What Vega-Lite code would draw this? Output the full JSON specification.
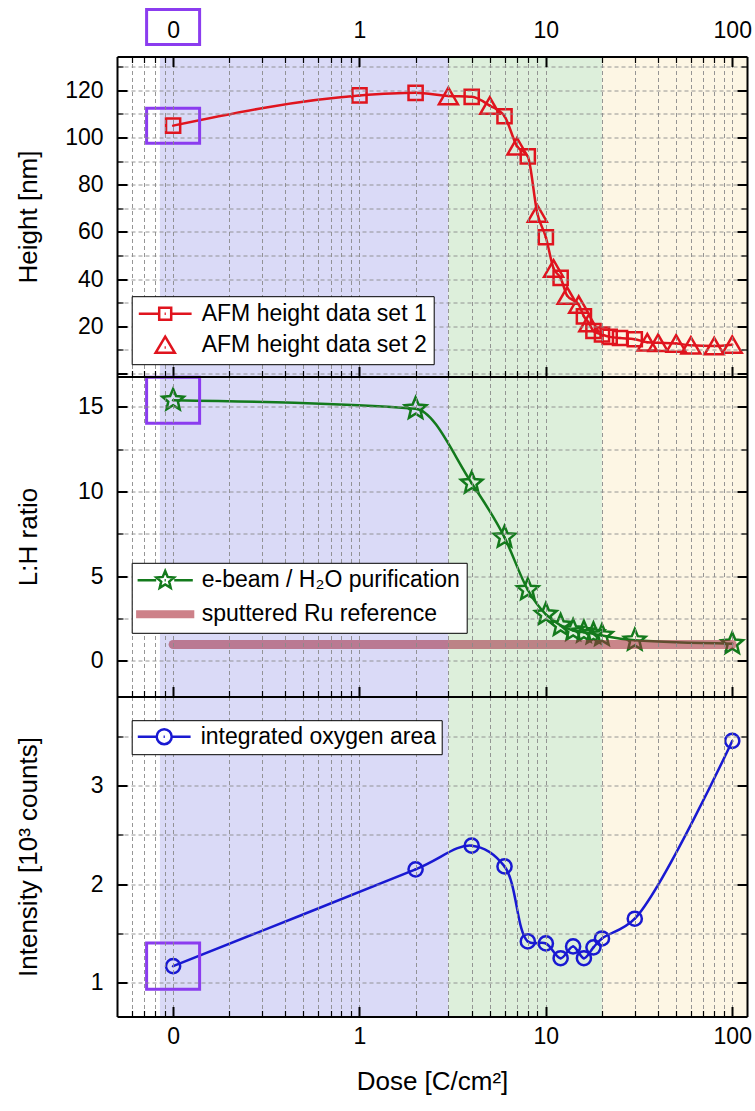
{
  "$schema": "https://vega.github.io/schema/vega-lite/v6.json",
  "background": "white",
  "padding": {"left": 15, "top": 3.5, "right": 5, "bottom": 5},
  "spacing": 0,
  "bounds": "flush",
  "resolve": {
    "scale": {"color": "independent", "shape": "independent"},
    "legend": {"color": "independent", "shape": "independent"}
  },
  "config": {
    "view": {"stroke": null},
    "font": "Liberation Sans",
    "axis": {
      "domainColor": "black", "domainWidth": 2, "tickColor": "black",
      "gridColor": "#8a8a8a", "gridDash": [4, 3], "gridWidth": 0.9,
      "labelFont": "Liberation Sans", "labelFontSize": 23, "labelColor": "black",
      "titleFont": "Liberation Sans", "titleFontSize": 26, "titleFontWeight": "normal", "titleColor": "black",
      "labelOverlap": false, "labelFlush": false
    },
    "legend": {
      "orient": "none", "labelFont": "Liberation Sans", "labelFontSize": 23, "labelColor": "black",
      "fillColor": "white", "strokeColor": "black", "padding": 6, "cornerRadius": 0,
      "symbolStrokeWidth": 2.5, "symbolSize": 144, "symbolOffset": 16, "labelOffset": 25,
      "symbolOpacity": 1, "labelLimit": 600
    }
  },
  "datasets": {
    "bands": [
      {"from": 0.085, "to": 3, "zone": "low"},
      {"from": 3, "to": 20, "zone": "mid"},
      {"from": 20, "to": 120, "zone": "high"}
    ],
    "height": [
      {"dose": 0.1, "height": 105, "set": "1"},
      {"dose": 1, "height": 117.8, "set": "1"},
      {"dose": 2, "height": 118.9, "set": "1"},
      {"dose": 3, "height": 117.6, "set": "2"},
      {"dose": 4, "height": 117.2, "set": "1"},
      {"dose": 5, "height": 113.5, "set": "2"},
      {"dose": 6, "height": 109, "set": "1"},
      {"dose": 7, "height": 96.3, "set": "2"},
      {"dose": 8, "height": 92, "set": "1"},
      {"dose": 9, "height": 67.8, "set": "2"},
      {"dose": 10, "height": 57.7, "set": "1"},
      {"dose": 11, "height": 44.5, "set": "2"},
      {"dose": 12, "height": 40.5, "set": "1"},
      {"dose": 13, "height": 33, "set": "2"},
      {"dose": 15, "height": 29.2, "set": "2"},
      {"dose": 16, "height": 24.2, "set": "1"},
      {"dose": 17, "height": 21.4, "set": "2"},
      {"dose": 18, "height": 18, "set": "1"},
      {"dose": 20, "height": 16.5, "set": "1"},
      {"dose": 22, "height": 15.5, "set": "1"},
      {"dose": 25, "height": 15, "set": "1"},
      {"dose": 30, "height": 14.5, "set": "1"},
      {"dose": 35, "height": 13.2, "set": "2"},
      {"dose": 40, "height": 13, "set": "2"},
      {"dose": 50, "height": 12.7, "set": "2"},
      {"dose": 60, "height": 11.9, "set": "2"},
      {"dose": 80, "height": 11.6, "set": "2"},
      {"dose": 100, "height": 12.2, "set": "2"}
    ],
    "ratio": [
      {"dose": 0.1, "ratio": 15.4},
      {"dose": 2, "ratio": 14.9},
      {"dose": 4, "ratio": 10.5},
      {"dose": 6, "ratio": 7.3},
      {"dose": 8, "ratio": 4.2},
      {"dose": 10, "ratio": 2.75},
      {"dose": 12, "ratio": 2.1},
      {"dose": 14, "ratio": 1.8},
      {"dose": 16, "ratio": 1.7},
      {"dose": 18, "ratio": 1.6},
      {"dose": 20, "ratio": 1.5},
      {"dose": 30, "ratio": 1.22},
      {"dose": 100, "ratio": 1.02}
    ],
    "ruref": [
      {"dose": 0.1, "ratio": 0.97},
      {"dose": 100, "ratio": 0.97}
    ],
    "oxygen": [
      {"dose": 0.1, "intensity": 1.17},
      {"dose": 2, "intensity": 2.15},
      {"dose": 4, "intensity": 2.39},
      {"dose": 6, "intensity": 2.18},
      {"dose": 8, "intensity": 1.42},
      {"dose": 10, "intensity": 1.4},
      {"dose": 12, "intensity": 1.25},
      {"dose": 14, "intensity": 1.37},
      {"dose": 16, "intensity": 1.25},
      {"dose": 18, "intensity": 1.36},
      {"dose": 20, "intensity": 1.45},
      {"dose": 30, "intensity": 1.65},
      {"dose": 100, "intensity": 3.45}
    ],
    "boxes": [
      {"panel": "height", "dose": 0.1, "value": 105},
      {"panel": "height", "dose": 0.1, "value": 146.8},
      {"panel": "ratio", "dose": 0.1, "value": 15.4},
      {"panel": "oxygen", "dose": 0.1, "value": 1.17}
    ]
  },
  "vconcat": [
    {
      "width": 630, "height": 320,
      "resolve": {"axis": {"x": "independent", "y": "independent"}},
      "layer": [
        {
          "data": {"name": "bands"},
          "mark": {"type": "rect"},
          "encoding": {
            "x": {"field": "from", "type": "quantitative",
              "scale": {"type": "log", "domain": [0.05, 120], "nice": false},
              "axis": {"orient": "top", "zindex": 1, "values": [0.06,0.07,0.08,0.09,0.1,0.2,0.3,0.4,0.5,0.6,0.7,0.8,0.9,1,2,3,4,5,6,7,8,9,10,20,30,40,50,60,70,80,90,100],
                "grid": true, "title": null, "labelPadding": 24,
                "labelExpr": "datum.value === 0.1 ? '0' : datum.value === 1 ? '1' : datum.value === 10 ? '10' : datum.value === 100 ? '100' : ''",
                "tickSize": {"condition": {"test": "indexof([0.1,1,10,100], datum.value) >= 0", "value": -10}, "value": -6},
                "tickWidth": {"condition": {"test": "indexof([0.1,1,10,100], datum.value) >= 0", "value": 2}, "value": 1.2}}},
            "x2": {"field": "to"},
            "fill": {"field": "zone", "type": "nominal", "scale": {"domain": ["low", "mid", "high"], "range": ["#dadaf7", "#ddefdb", "#fdf6e4"]}, "legend": null}
          }
        },
        {
          "data": {"name": "height"},
          "mark": {"type": "line", "interpolate": "monotone", "color": "#e0141e", "strokeWidth": 2.5},
          "encoding": {
            "x": {"field": "dose", "type": "quantitative",
              "scale": {"type": "log", "domain": [0.05, 120], "nice": false},
              "axis": {"orient": "bottom", "zindex": 1, "values": [0.06,0.07,0.08,0.09,0.1,0.2,0.3,0.4,0.5,0.6,0.7,0.8,0.9,1,2,3,4,5,6,7,8,9,10,20,30,40,50,60,70,80,90,100],
                "grid": false, "labels": false, "title": null,
                "tickSize": {"condition": {"test": "indexof([0.1,1,10,100], datum.value) >= 0", "value": -10}, "value": -6},
                "tickWidth": {"condition": {"test": "indexof([0.1,1,10,100], datum.value) >= 0", "value": 2}, "value": 1.2}}},
            "y": {"field": "height", "type": "quantitative",
              "scale": {"domain": [-1.3, 134.3], "nice": false, "zero": false},
              "axis": {"orient": "left", "zindex": 1, "values": [0,10,20,30,40,50,60,70,80,90,100,110,120,130],
                "grid": true, "title": "Height [nm]", "labelPadding": 24,
                "labelExpr": "datum.value % 20 === 0 && datum.value > 0 ? datum.label : ''",
                "tickSize": {"condition": {"test": "datum.value % 20 === 0", "value": -10}, "value": -6},
                "tickWidth": {"condition": {"test": "datum.value % 20 === 0", "value": 2}, "value": 1.2},
                "titleX": -89, "titleY": 160, "titleAngle": 270, "titleAlign": "center", "titleBaseline": "middle"}}
          }
        },
        {
          "data": {"name": "height"},
          "transform": [{"filter": "datum.set === '1'"}],
          "mark": {"type": "point", "shape": "square", "size": 200, "filled": false, "color": "#e0141e", "strokeWidth": 2.5, "opacity": 1},
          "encoding": {
            "x": {"field": "dose", "type": "quantitative", "scale": {"type": "log", "domain": [0.05, 120], "nice": false}, "axis": null},
            "y": {"field": "height", "type": "quantitative",
              "scale": {"domain": [-1.3, 134.3], "nice": false, "zero": false},
              "axis": {"orient": "right", "zindex": 1, "values": [0,10,20,30,40,50,60,70,80,90,100,110,120,130],
                "grid": false, "labels": false, "title": null,
                "tickSize": {"condition": {"test": "datum.value % 20 === 0", "value": -10}, "value": -6},
                "tickWidth": {"condition": {"test": "datum.value % 20 === 0", "value": 2}, "value": 1.2}}}
          }
        },
        {
          "data": {"name": "height"},
          "transform": [{"filter": "datum.set === '2'"}],
          "mark": {"type": "point", "shape": "triangle-up", "size": 360, "filled": false, "color": "#e0141e", "strokeWidth": 2.5, "opacity": 1},
          "encoding": {
            "x": {"field": "dose", "type": "quantitative", "scale": {"type": "log", "domain": [0.05, 120], "nice": false}, "axis": null},
            "y": {"field": "height", "type": "quantitative", "scale": {"domain": [-1.3, 134.3], "nice": false, "zero": false}, "axis": null}
          }
        },
        {
          "data": {"name": "height"},
          "mark": {"type": "point", "shape": "circle", "size": 6, "filled": true, "color": "#e0141e", "opacity": 1},
          "encoding": {
            "x": {"field": "dose", "type": "quantitative", "scale": {"type": "log", "domain": [0.05, 120], "nice": false}, "axis": null},
            "y": {"field": "height", "type": "quantitative", "scale": {"domain": [-1.3, 134.3], "nice": false, "zero": false}, "axis": null}
          }
        },
        {
          "data": {"name": "boxes"},
          "transform": [{"filter": "datum.panel === 'height'"}],
          "mark": {"type": "point", "shape": "M-1,-0.66H1V0.66H-1Z", "size": 2809, "filled": false, "color": "#8b3cef", "strokeWidth": 3, "opacity": 1},
          "encoding": {
            "x": {"field": "dose", "type": "quantitative", "scale": {"type": "log", "domain": [0.05, 120], "nice": false}, "axis": null},
            "y": {"field": "value", "type": "quantitative", "scale": {"domain": [-1.3, 134.3], "nice": false, "zero": false}, "axis": null}
          }
        },
        {
          "data": {"values": []},
          "mark": {"type": "point", "filled": false, "opacity": 1},
          "encoding": {
            "color": {"field": "series", "type": "nominal",
              "scale": {"domain": ["AFM height data set 1", "AFM height data set 2"], "range": ["#e0141e", "#e0141e"]},
              "legend": {"title": null, "orient": "none", "legendX": 14.7, "legendY": 239.7, "rowPadding": 5, "zindex": 2}},
            "shape": {"field": "series", "type": "nominal",
              "scale": {"domain": ["AFM height data set 1", "AFM height data set 2"],
                "range": ["M-4.4,0H-1M1,0H4.4M-1,-1H1V1H-1ZM-0.1,0H0.1", "M0,-1.35L1.6,1.35H-1.6ZM-0.1,0.45H0.1"]},
              "legend": {"title": null, "orient": "none", "legendX": 14.7, "legendY": 239.7, "rowPadding": 5, "zindex": 2}}
          }
        }
      ]
    },
    {
      "width": 630, "height": 320,
      "resolve": {"axis": {"x": "independent", "y": "independent"}},
      "layer": [
        {
          "data": {"name": "bands"},
          "mark": {"type": "rect"},
          "encoding": {
            "x": {"field": "from", "type": "quantitative",
              "scale": {"type": "log", "domain": [0.05, 120], "nice": false},
              "axis": {"orient": "top", "zindex": 1, "values": [0.06,0.07,0.08,0.09,0.1,0.2,0.3,0.4,0.5,0.6,0.7,0.8,0.9,1,2,3,4,5,6,7,8,9,10,20,30,40,50,60,70,80,90,100],
                "grid": true, "title": null, "labels": false, "ticks": false}},
            "x2": {"field": "to"},
            "fill": {"field": "zone", "type": "nominal", "scale": {"domain": ["low", "mid", "high"], "range": ["#dadaf7", "#ddefdb", "#fdf6e4"]}, "legend": null}
          }
        },
        {
          "data": {"name": "ratio"},
          "mark": {"type": "line", "interpolate": "monotone", "color": "#137a1c", "strokeWidth": 2.5},
          "encoding": {
            "x": {"field": "dose", "type": "quantitative",
              "scale": {"type": "log", "domain": [0.05, 120], "nice": false},
              "axis": {"orient": "bottom", "zindex": 1, "values": [0.06,0.07,0.08,0.09,0.1,0.2,0.3,0.4,0.5,0.6,0.7,0.8,0.9,1,2,3,4,5,6,7,8,9,10,20,30,40,50,60,70,80,90,100],
                "grid": false, "labels": false, "title": null,
                "tickSize": {"condition": {"test": "indexof([0.1,1,10,100], datum.value) >= 0", "value": -10}, "value": -6},
                "tickWidth": {"condition": {"test": "indexof([0.1,1,10,100], datum.value) >= 0", "value": 2}, "value": 1.2}}},
            "y": {"field": "ratio", "type": "quantitative",
              "scale": {"domain": [-2.1, 16.8], "nice": false, "zero": false},
              "axis": {"orient": "left", "zindex": 1, "values": [0,2.5,5,7.5,10,12.5,15],
                "grid": true, "title": "L:H ratio", "labelPadding": 24,
                "labelExpr": "datum.value % 5 === 0 ? datum.label : ''",
                "tickSize": {"condition": {"test": "datum.value % 5 === 0", "value": -10}, "value": -6},
                "tickWidth": {"condition": {"test": "datum.value % 5 === 0", "value": 2}, "value": 1.2},
                "titleX": -89, "titleY": 160, "titleAngle": 270, "titleAlign": "center", "titleBaseline": "middle"}}
          }
        },
        {
          "data": {"name": "ratio"},
          "mark": {"type": "point", "shape": "M0,-1L0.2645,-0.364L0.951,-0.309L0.428,0.139L0.588,0.809L0,0.45L-0.588,0.809L-0.428,0.139L-0.951,-0.309L-0.2645,-0.364Z", "size": 510, "filled": false, "color": "#137a1c", "strokeWidth": 2.5, "opacity": 1},
          "encoding": {
            "x": {"field": "dose", "type": "quantitative", "scale": {"type": "log", "domain": [0.05, 120], "nice": false}, "axis": null},
            "y": {"field": "ratio", "type": "quantitative",
              "scale": {"domain": [-2.1, 16.8], "nice": false, "zero": false},
              "axis": {"orient": "right", "zindex": 1, "values": [0,2.5,5,7.5,10,12.5,15],
                "grid": false, "labels": false, "title": null,
                "tickSize": {"condition": {"test": "datum.value % 5 === 0", "value": -10}, "value": -6},
                "tickWidth": {"condition": {"test": "datum.value % 5 === 0", "value": 2}, "value": 1.2}}}
          }
        },
        {
          "data": {"name": "ratio"},
          "mark": {"type": "point", "shape": "circle", "size": 6, "filled": true, "color": "#137a1c", "opacity": 1},
          "encoding": {
            "x": {"field": "dose", "type": "quantitative", "scale": {"type": "log", "domain": [0.05, 120], "nice": false}, "axis": null},
            "y": {"field": "ratio", "type": "quantitative", "scale": {"domain": [-2.1, 16.8], "nice": false, "zero": false}, "axis": null}
          }
        },
        {
          "data": {"name": "ruref"},
          "mark": {"type": "line", "color": "#a02a40", "opacity": 0.55, "strokeWidth": 9, "strokeCap": "round"},
          "encoding": {
            "x": {"field": "dose", "type": "quantitative", "scale": {"type": "log", "domain": [0.05, 120], "nice": false}, "axis": null},
            "y": {"field": "ratio", "type": "quantitative", "scale": {"domain": [-2.1, 16.8], "nice": false, "zero": false}, "axis": null}
          }
        },
        {
          "data": {"name": "boxes"},
          "transform": [{"filter": "datum.panel === 'ratio'"}],
          "mark": {"type": "point", "shape": "M-1,-0.87H1V0.87H-1Z", "size": 2809, "filled": false, "color": "#8b3cef", "strokeWidth": 3, "opacity": 1},
          "encoding": {
            "x": {"field": "dose", "type": "quantitative", "scale": {"type": "log", "domain": [0.05, 120], "nice": false}, "axis": null},
            "y": {"field": "value", "type": "quantitative", "scale": {"domain": [-2.1, 16.8], "nice": false, "zero": false}, "axis": null}
          }
        },
        {
          "data": {"values": []},
          "mark": {"type": "point", "filled": false, "opacity": 1},
          "encoding": {
            "color": {"field": "series", "type": "nominal",
              "scale": {"domain": ["e-beam / H₂O purification", "sputtered Ru reference"], "range": ["#137a1c", "#cd8189"]},
              "legend": {"title": null, "orient": "none", "legendX": 14.7, "legendY": 186.3, "rowPadding": 9, "zindex": 2}},
            "shape": {"field": "series", "type": "nominal",
              "scale": {"domain": ["e-beam / H₂O purification", "sputtered Ru reference"],
                "range": ["M-4.6,0H-1.5M1.5,0H4.6M0,-1.55L0.41,-0.564L1.474,-0.479L0.663,0.2155L0.911,1.254L0,0.6975L-0.911,1.254L-0.663,0.2155L-1.474,-0.479L-0.41,-0.564ZM-0.1,0H0.1",
                  "M-4.85,-0.45H4.85M-4.85,-0.15H4.85M-4.85,0.15H4.85M-4.85,0.45H4.85"]},
              "legend": {"title": null, "orient": "none", "legendX": 14.7, "legendY": 186.3, "rowPadding": 9, "zindex": 2}}
          }
        }
      ]
    },
    {
      "width": 630, "height": 320,
      "resolve": {"axis": {"x": "independent", "y": "independent"}},
      "layer": [
        {
          "data": {"name": "bands"},
          "mark": {"type": "rect"},
          "encoding": {
            "x": {"field": "from", "type": "quantitative",
              "scale": {"type": "log", "domain": [0.05, 120], "nice": false},
              "axis": {"orient": "top", "zindex": 1, "values": [0.06,0.07,0.08,0.09,0.1,0.2,0.3,0.4,0.5,0.6,0.7,0.8,0.9,1,2,3,4,5,6,7,8,9,10,20,30,40,50,60,70,80,90,100],
                "grid": true, "title": null, "labels": false, "ticks": false}},
            "x2": {"field": "to"},
            "fill": {"field": "zone", "type": "nominal", "scale": {"domain": ["low", "mid", "high"], "range": ["#dadaf7", "#ddefdb", "#fdf6e4"]}, "legend": null}
          }
        },
        {
          "data": {"name": "oxygen"},
          "mark": {"type": "line", "interpolate": "catmull-rom", "color": "#1919d2", "strokeWidth": 2.5},
          "encoding": {
            "x": {"field": "dose", "type": "quantitative",
              "scale": {"type": "log", "domain": [0.05, 120], "nice": false},
              "axis": {"orient": "bottom", "zindex": 1, "values": [0.06,0.07,0.08,0.09,0.1,0.2,0.3,0.4,0.5,0.6,0.7,0.8,0.9,1,2,3,4,5,6,7,8,9,10,20,30,40,50,60,70,80,90,100],
                "grid": false, "title": "Dose [C/cm²]", "titlePadding": 16, "labelPadding": 19,
                "labelExpr": "datum.value === 0.1 ? '0' : datum.value === 1 ? '1' : datum.value === 10 ? '10' : datum.value === 100 ? '100' : ''",
                "tickSize": {"condition": {"test": "indexof([0.1,1,10,100], datum.value) >= 0", "value": -10}, "value": -6},
                "tickWidth": {"condition": {"test": "indexof([0.1,1,10,100], datum.value) >= 0", "value": 2}, "value": 1.2}}},
            "y": {"field": "intensity", "type": "quantitative",
              "scale": {"domain": [0.66, 3.9], "nice": false, "zero": false},
              "axis": {"orient": "left", "zindex": 1, "values": [1,1.5,2,2.5,3,3.5],
                "grid": true, "title": "Intensity [10³ counts]", "labelPadding": 24,
                "labelExpr": "datum.value % 1 === 0 ? format(datum.value, 'd') : ''",
                "tickSize": {"condition": {"test": "datum.value % 1 === 0", "value": -10}, "value": -6},
                "tickWidth": {"condition": {"test": "datum.value % 1 === 0", "value": 2}, "value": 1.2},
                "titleX": -89, "titleY": 160, "titleAngle": 270, "titleAlign": "center", "titleBaseline": "middle"}}
          }
        },
        {
          "data": {"name": "oxygen"},
          "mark": {"type": "point", "shape": "circle", "size": 200, "filled": false, "color": "#1919d2", "strokeWidth": 2.5, "opacity": 1},
          "encoding": {
            "x": {"field": "dose", "type": "quantitative", "scale": {"type": "log", "domain": [0.05, 120], "nice": false}, "axis": null},
            "y": {"field": "intensity", "type": "quantitative",
              "scale": {"domain": [0.66, 3.9], "nice": false, "zero": false},
              "axis": {"orient": "right", "zindex": 1, "values": [1,1.5,2,2.5,3,3.5],
                "grid": false, "labels": false, "title": null,
                "tickSize": {"condition": {"test": "datum.value % 1 === 0", "value": -10}, "value": -6},
                "tickWidth": {"condition": {"test": "datum.value % 1 === 0", "value": 2}, "value": 1.2}}}
          }
        },
        {
          "data": {"name": "oxygen"},
          "mark": {"type": "point", "shape": "circle", "size": 6, "filled": true, "color": "#1919d2", "opacity": 1},
          "encoding": {
            "x": {"field": "dose", "type": "quantitative", "scale": {"type": "log", "domain": [0.05, 120], "nice": false}, "axis": null},
            "y": {"field": "intensity", "type": "quantitative", "scale": {"domain": [0.66, 3.9], "nice": false, "zero": false}, "axis": null}
          }
        },
        {
          "data": {"name": "boxes"},
          "transform": [{"filter": "datum.panel === 'oxygen'"}],
          "mark": {"type": "point", "shape": "M-1,-0.87H1V0.87H-1Z", "size": 2809, "filled": false, "color": "#8b3cef", "strokeWidth": 3, "opacity": 1},
          "encoding": {
            "x": {"field": "dose", "type": "quantitative", "scale": {"type": "log", "domain": [0.05, 120], "nice": false}, "axis": null},
            "y": {"field": "value", "type": "quantitative", "scale": {"domain": [0.66, 3.9], "nice": false, "zero": false}, "axis": null}
          }
        },
        {
          "data": {"values": []},
          "mark": {"type": "point", "filled": false, "opacity": 1},
          "encoding": {
            "color": {"field": "series", "type": "nominal",
              "scale": {"domain": ["integrated oxygen area"], "range": ["#1919d2"]},
              "legend": {"title": null, "orient": "none", "legendX": 14.7, "legendY": 23.7, "padding": 5, "zindex": 2}},
            "shape": {"field": "series", "type": "nominal",
              "scale": {"domain": ["integrated oxygen area"],
                "range": ["M-4.4,0H-1.25M1.25,0H4.4M1.25,0A1.25,1.25 0 1 1 -1.25,0A1.25,1.25 0 1 1 1.25,0ZM-0.1,0H0.1"]},
              "legend": {"title": null, "orient": "none", "legendX": 14.7, "legendY": 23.7, "padding": 5, "zindex": 2}}
          }
        }
      ]
    }
  ]
}
